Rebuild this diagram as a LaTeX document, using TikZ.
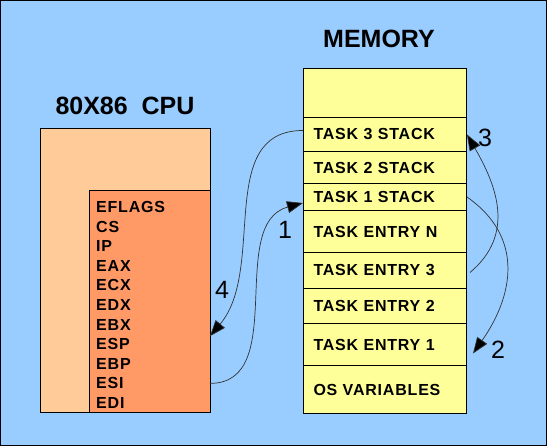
\documentclass[tikz,border=0pt]{standalone}
\usepackage{fontspec}
\setmainfont{Liberation Sans}
\newfontfamily\cellfont{Liberation Sans}[LetterSpace=5]
\usepackage{tikz}
\usetikzlibrary{arrows.meta}

\definecolor{skyback}{RGB}{153,204,255}
\definecolor{cpuouter}{RGB}{255,204,153}
\definecolor{cpuinner}{RGB}{255,153,102}
\definecolor{memcell}{RGB}{255,255,153}

\tikzset{
  title/.style={font=\fontsize{25}{30}\selectfont\bfseries},
  reg/.style={anchor=west, inner sep=0pt, font=\fontsize{16}{19}\selectfont\cellfont\bfseries},
  cell/.style={draw, line width=1pt, fill=memcell, anchor=north west, minimum width=163pt,
    text width=143pt, inner xsep=10pt, inner ysep=0pt, align=left,
    font=\fontsize{16}{19}\selectfont\cellfont\bfseries},
  link/.style={draw=black!80, line width=0.7pt, -{Stealth[length=16pt,width=12pt,inset=0pt,fill=black]}},
  num/.style={font=\fontsize{25}{30}\selectfont}
}

\begin{document}
\begin{tikzpicture}[x=1pt, y=-1pt]
			\useasboundingbox (0,0) rectangle (547,446);
			\draw[fill=skyback, line width=1pt] (0.5,0.5) rectangle (546.5,445.5);
			%%%%%%%%%%%%%%%%%%%%%%%%%%%%%%%%
			\node[title] (cputitle) at (125,106) {80X86\ \ CPU};
			\draw[fill=cpuouter, line width=1pt] (40,129) rectangle (210,413);
			\draw[fill=cpuinner, line width=1pt] (89,191) rectangle (210,413);
			\coordinate (regs) at (210,300);
			\foreach \r [count=\i from 0] in {EFLAGS,CS,IP,EAX,ECX,EDX,EBX,ESP,EBP,ESI,EDI}
				\node[reg] (r-\r) at (96,{207+19.6*\i}) {\r};
			%%%%%%%%%%%%%%%%%%%%%%%%%%%%%%%%
			\node[title] (memtitle) at (379,39) {MEMORY};
			\foreach \n/\t/\h/\lbl in {0/68/49/{},1/117/34/TASK 3 STACK,2/151/32/TASK 2 STACK,
				3/183/27/TASK 1 STACK,4/210/42/TASK ENTRY N,5/252/36/TASK ENTRY 3,
				6/288/35/TASK ENTRY 2,7/323/42/TASK ENTRY 1,8/365/48/OS VARIABLES}
				\node[cell, minimum height=\h pt] (m\n) at (303,\t) {\lbl};
			%%%%%%%%%%%%%%%%%%%%%%%%%%%%%
			\path[link] (regs |- r-ESI) to[out=0, in=195] ([yshift=-6pt]m3.west);
			\path[link] ([yshift=4pt]m1.west) to[out=180, in=50] ([yshift=8pt]regs |- r-ESP);
			\path[link] (m3.east) to[out=-35, in=55, looseness=1.15] ([xshift=6pt,yshift=-9pt]m7.east);
			\path[link] ([xshift=3pt,yshift=-2pt]m5.east) to[out=40, in=-60, looseness=1.1] (m1.east);
			\node[num] at (285,230) {1};
			\node[num] at (498,350) {2};
			\node[num] at (485,138) {3};
			\node[num] at (222,290) {4};
		\end{tikzpicture}
\end{document}
